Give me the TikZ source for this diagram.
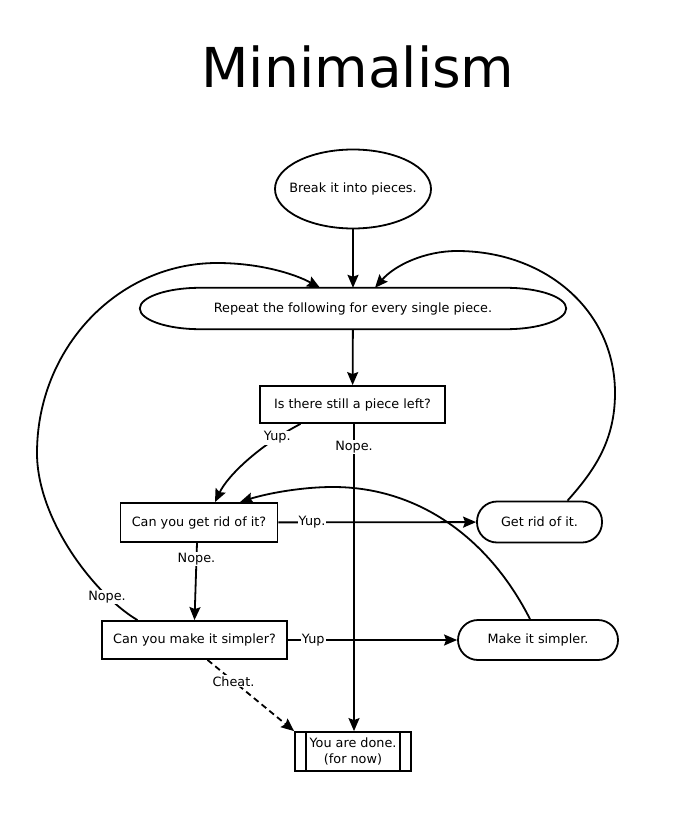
\documentclass[tikz,border=0pt]{standalone}
\usepackage{fontspec}
\setmainfont{DejaVu Sans}
\usepackage{tikz}
\usetikzlibrary{arrows.meta,shapes,positioning,calc}

\begin{document}
\begin{tikzpicture}[
    x=1pt, y=-1pt,
    every node/.style={font=\fontsize{12.8}{16}\selectfont},
    oval/.style={ellipse, draw, line width=1.8pt, inner sep=0pt, align=center},
    decision/.style={rectangle, draw, line width=1.8pt, inner sep=0pt, align=center},
    action/.style={rectangle, draw, line width=1.8pt, inner sep=0pt, rounded corners=20pt, align=center},
    donebox/.style={rectangle, draw, line width=1.8pt, inner sep=0pt, align=center,
        minimum width=116pt, minimum height=39pt,
        path picture={
            \draw[line width=1.8pt] ([xshift=11pt]path picture bounding box.north west) -- ([xshift=11pt]path picture bounding box.south west);
            \draw[line width=1.8pt] ([xshift=-11pt]path picture bounding box.north east) -- ([xshift=-11pt]path picture bounding box.south east);
        }},
    outline/.style={line width=1.8pt},
    arrow/.style={-{Stealth[length=13pt, width=11pt, inset=2pt]}, line width=1.8pt},
    cheatarrow/.style={arrow, dash pattern=on 6pt off 4pt},
    lbl/.style={fill=white, inner sep=1pt},
]
\useasboundingbox (0,0) rectangle (691,826);

\node[anchor=base, font=\fontsize{55}{60}\selectfont] (title) at (358,88) {Minimalism};

\node[oval, inner xsep=-9pt, minimum width=156pt, minimum height=79pt] (pieces) at (353,189) {Break it into pieces.};
\node[rectangle, inner sep=0pt, minimum width=426pt, minimum height=41pt] (repeat) at (353,308.5) {Repeat the following for every single piece.};
\draw[outline] (repeat.west) .. controls ($(repeat.west)+(0,-11.3)$) and ($(repeat.north west)+(27,0)$) .. ($(repeat.north west)+(60,0)$)
    -- ($(repeat.north east)+(-60,0)$) .. controls ($(repeat.north east)+(-27,0)$) and ($(repeat.east)+(0,-11.3)$) .. (repeat.east)
    .. controls ($(repeat.east)+(0,11.3)$) and ($(repeat.south east)+(-27,0)$) .. ($(repeat.south east)+(-60,0)$)
    -- ($(repeat.south west)+(60,0)$) .. controls ($(repeat.south west)+(27,0)$) and ($(repeat.west)+(0,11.3)$) .. cycle;
\node[decision, minimum width=185pt, minimum height=37pt] (isleft) at (352.5,404.5) {Is there still a piece left?};
\node[decision, minimum width=157pt, minimum height=39pt] (canrid) at (199,522.5) {Can you get rid of it?};
\node[action, minimum width=125pt, minimum height=41pt] (getrid) at (539.5,522) {Get rid of it.};
\node[decision, minimum width=185pt, minimum height=38pt] (cansimp) at (194.5,640) {Can you make it simpler?};
\node[action, minimum width=160pt, minimum height=40pt] (mksimp) at (538,640) {Make it simpler.};
\node[donebox] (done) at (353,751.5) {You are done.\\(for now)};

\draw[arrow] (pieces) -- (repeat);
\draw[arrow] (repeat) -- (isleft);
\draw[arrow] ([xshift=-52pt]isleft.south) .. controls (260,445) and (228,475) .. node[lbl, pos=0.2] {Yup.} ([xshift=16pt]canrid.north);
\draw[arrow] ([xshift=1.5pt]isleft.south) -- node[lbl, pos=0.075] {Nope.} ([xshift=1pt]done.north);
\draw[arrow] (canrid) -- node[lbl, pos=0.17] {Yup.} (getrid);
\draw[arrow] ([xshift=-2pt]canrid.south) -- node[lbl, pos=0.21] {Nope.} (cansimp.north);
\draw[arrow] (cansimp) -- node[lbl, pos=0.15] {Yup} (mksimp);
\draw[cheatarrow] ([xshift=13pt]cansimp.south) -- node[lbl, pos=0.3] {Cheat.} (done.north west);
\draw[arrow] ([xshift=28pt]getrid.north) .. controls (595,470) and (615,440) .. (615,393)
    .. controls (615,310) and (545,251) .. (457,251)
    .. controls (425,251) and (395,265) .. ([xshift=22pt]repeat.north);
\draw[arrow] ([xshift=-57pt]cansimp.north) .. controls (95,595) and (37,520) .. (37,453)
    .. controls (37,348) and (118,263) .. (217,263)
    .. controls (260,263) and (295,274) .. ([xshift=-33pt]repeat.north);
\node[lbl] (nopelbl) at (107,597) {Nope.};
\draw[arrow] ([xshift=-8pt]mksimp.north) .. controls (490,540) and (420,487) .. (333,487)
    .. controls (300,487) and (265,494) .. ([xshift=41pt]canrid.north);
\end{tikzpicture}
\end{document}
